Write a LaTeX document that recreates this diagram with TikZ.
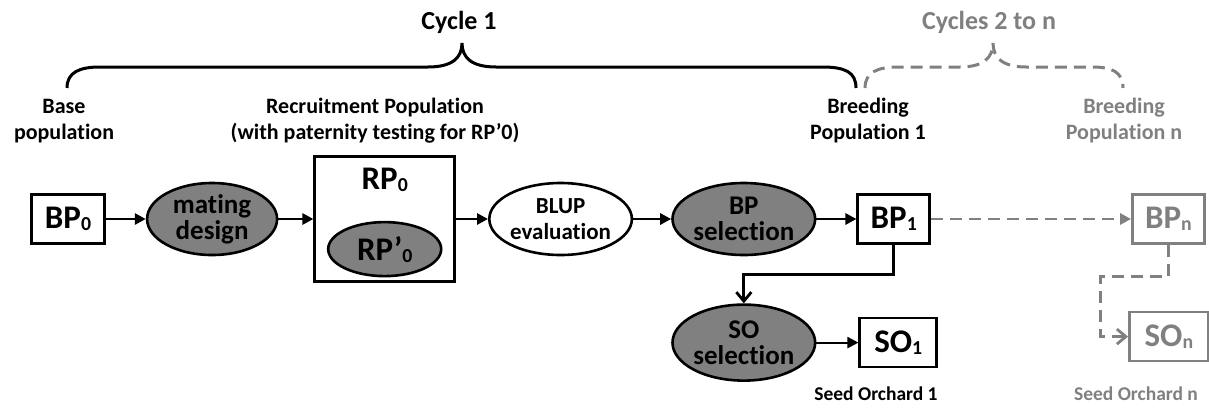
\documentclass[tikz,border=0pt]{standalone}
\usepackage{fontspec}
\setmainfont{Carlito}[Ligatures={NoCommon}]
\usepackage{graphicx}
\usetikzlibrary{arrows.meta,positioning,shapes.geometric}
\definecolor{cyclegray}{RGB}{128,128,128}
\definecolor{selfill}{RGB}{128,128,128}
\newcommand{\idx}[1]{\raisebox{-0.06em}{\scalebox{0.6}{#1}}}
\tikzset{
  popbox/.style={draw, line width=2.6pt, minimum width=72pt, minimum height=49pt,
                 inner sep=0pt, font=\fontsize{33}{33}\selectfont\bfseries},
  stepell/.style={ellipse, draw, line width=2.6pt, fill=selfill, minimum width=130pt,
                  minimum height=72pt, inner sep=0pt, align=center,
                  font=\fontsize{27}{26}\selectfont\bfseries},
  faded/.style={draw=cyclegray, text=cyclegray},
  sig/.style={-{Triangle[length=11pt,width=11pt]}, line width=2.8pt},
  vsig/.style={-{Straight Barb[length=9pt,width=15pt]}, line width=2.8pt},
  dsig/.style={cyclegray, dash pattern=on 12pt off 7pt, line width=2.8pt},
  lbl/.style={align=center, inner sep=0pt, font=\fontsize{22}{26}\selectfont\bfseries},
  ttl/.style={inner sep=0pt, font=\fontsize{26}{26}\selectfont\bfseries},
}
\begin{document}
\begin{tikzpicture}[x=1pt, y=-1pt, node distance=40pt]
  \useasboundingbox (0,0) rectangle (1209,408);
  % main row
  \node[popbox, minimum width=73pt] (bp0) at (68,219) {BP\idx{0}};
  \node[stepell, right=40pt of bp0] (mating) {mating\\design};
  \node[draw, line width=2.6pt, minimum width=140pt, minimum height=125pt,
        right=35pt of mating] (rp) {};
  \node[popbox, draw=none, minimum height=30pt, below=8pt of rp.north] (rp0) {RP\idx{0}};
  \node[stepell, minimum width=113pt, minimum height=54pt,
        font=\fontsize{33}{33}\selectfont\bfseries, below=25pt of rp0] (rpp) {RP’\idx{0}};
  \node[stepell, fill=white, font=\fontsize{23}{26}\selectfont\bfseries,
        right=32pt of rp] (blup) {BLUP\\evaluation};
  \node[stepell, right=38pt of blup] (bpsel) {BP\\selection};
  \node[popbox, right=40pt of bpsel] (bp1) {BP\idx{1}};
  \node[popbox, faded, right=200pt of bp1] (bpn) {BP\idx{n}};
  % seed orchard row
  \node[stepell, minimum height=76pt, below=47pt of bpsel] (sosel) {SO\\selection};
  \node[popbox, minimum width=77pt, right=42pt of sosel] (so1) {SO\idx{1}};
  \node[popbox, faded, minimum width=79pt, right=190pt of so1, yshift=6pt] (son) {SO\idx{n}};
  \draw[sig] (bp0) -- (mating);
  \draw[sig] (mating) -- (rp);
  \draw[sig] (rp) -- (blup);
  \draw[sig] (blup) -- (bpsel);
  \draw[sig] (bpsel) -- (bp1);
  \draw[vsig] (bp1.south) -- ++(0,30) -| (sosel.north);
  \draw[sig, line width=2.2pt] (sosel) -- (so1);
  \draw[dsig, -{Triangle[length=11pt,width=11pt]}] (bp1) -- (bpn);
  \draw[dsig, -{Straight Barb[length=9pt,width=15pt]}] (bpn.south) -- ++(0,32) -- ++(-68,0) |- (son.west);
  % labels
  \node[lbl] (base) at (64,121) {Base\\population};
  \node[lbl] (recruit) at (375,121) {Recruitment Population\\(with paternity testing for RP’0)};
  \node[lbl] (bred1) at (868,121) {Breeding\\Population 1};
  \node[lbl, text=cyclegray] (bredn) at (1124,121) {Breeding\\Population n};
  \node[lbl, font=\fontsize{19.5}{22}\selectfont\bfseries] (orch1) at (876,394) {Seed Orchard 1};
  \node[lbl, text=cyclegray, font=\fontsize{19.5}{22}\selectfont\bfseries] (orchn) at (1136,394) {Seed Orchard n};
  \node[ttl] (cyc1) at (459,22) {Cycle 1};
  \node[ttl, text=cyclegray] (cycn) at (989,22) {Cycles 2 to n};
  % braces
  \draw[line width=3pt] (67,88) .. controls (67,72) and (80,67) .. (100,67) -- (428,67)
    .. controls (452,67) and (462,58) .. (462,43) .. controls (462,58) and (472,67) .. (496,67)
    -- (822,67) .. controls (845,67) and (856,72) .. (856,88);
  \draw[dsig, line width=3pt] (865,88) .. controls (865,72) and (878,67) .. (898,67) -- (960,67)
    .. controls (983,67) and (993,58) .. (993,43) .. controls (993,58) and (1003,67) .. (1026,67)
    -- (1092,67) .. controls (1112,67) and (1123,72) .. (1123,88);
\end{tikzpicture}
\end{document}
